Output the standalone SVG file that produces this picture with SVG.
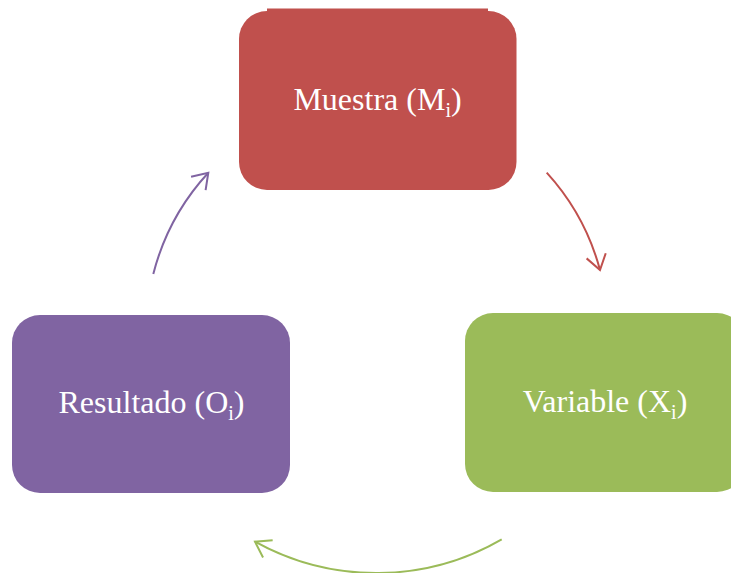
<svg xmlns="http://www.w3.org/2000/svg" width="731" height="573" viewBox="0 0 731 573">
  <defs>
    <style>
      .lbl { font-family: "Liberation Serif", "Times New Roman", serif; font-size: 32px; fill: #ffffff; text-anchor: middle; }
      .sub { font-size: 20px; }
      .conn { fill: none; stroke-width: 2; }
    </style>
    <marker id="ahR" markerUnits="userSpaceOnUse" markerWidth="40" markerHeight="40" refX="20" refY="20" orient="auto" viewBox="0 0 40 40">
      <polyline points="5.3,10.1 20,20 5.3,29.9" fill="none" stroke="#C0504D" stroke-width="2"/>
    </marker>
    <marker id="ahG" markerUnits="userSpaceOnUse" markerWidth="40" markerHeight="40" refX="20" refY="20" orient="auto" viewBox="0 0 40 40">
      <polyline points="5.3,10.1 20,20 5.3,29.9" fill="none" stroke="#9BBB59" stroke-width="2"/>
    </marker>
    <marker id="ahP" markerUnits="userSpaceOnUse" markerWidth="40" markerHeight="40" refX="20" refY="20" orient="auto" viewBox="0 0 40 40">
      <polyline points="5.3,10.1 20,20 5.3,29.9" fill="none" stroke="#8064A2" stroke-width="2"/>
    </marker>
  </defs>
  <rect width="731" height="573" fill="#ffffff"/>

  <g id="muestra">
    <rect x="267" y="8.5" width="221" height="6" fill="#C0504D"/>
    <rect x="239" y="11" width="277.5" height="179" rx="28" ry="28" fill="#C0504D"/>
    <text class="lbl" x="377.5" y="110">Muestra (M<tspan class="sub" dy="7">i</tspan><tspan dy="-7">)</tspan></text>
  </g>

  <g id="variable">
    <rect x="465" y="313" width="280" height="179" rx="28" ry="28" fill="#9BBB59"/>
    <text class="lbl" x="605" y="412">Variable (X<tspan class="sub" dy="7">i</tspan><tspan dy="-7">)</tspan></text>
  </g>

  <g id="resultado">
    <rect x="12" y="315" width="278" height="178" rx="28" ry="28" fill="#8064A2"/>
    <text class="lbl" x="151.5" y="413">Resultado (O<tspan class="sub" dy="7">i</tspan><tspan dy="-7">)</tspan></text>
  </g>

  <g id="connectors">
    <path class="conn" d="M 546.7 172.7 A 235 235 0 0 1 600 270" stroke="#C0504D" marker-end="url(#ahR)"/>
    <path class="conn" d="M 501.7 539.3 A 250 250 0 0 1 255 541.7" stroke="#9BBB59" marker-end="url(#ahG)"/>
    <path class="conn" d="M 153.3 274 A 235 235 0 0 1 208.3 172.7" stroke="#8064A2" marker-end="url(#ahP)"/>
  </g>
</svg>
